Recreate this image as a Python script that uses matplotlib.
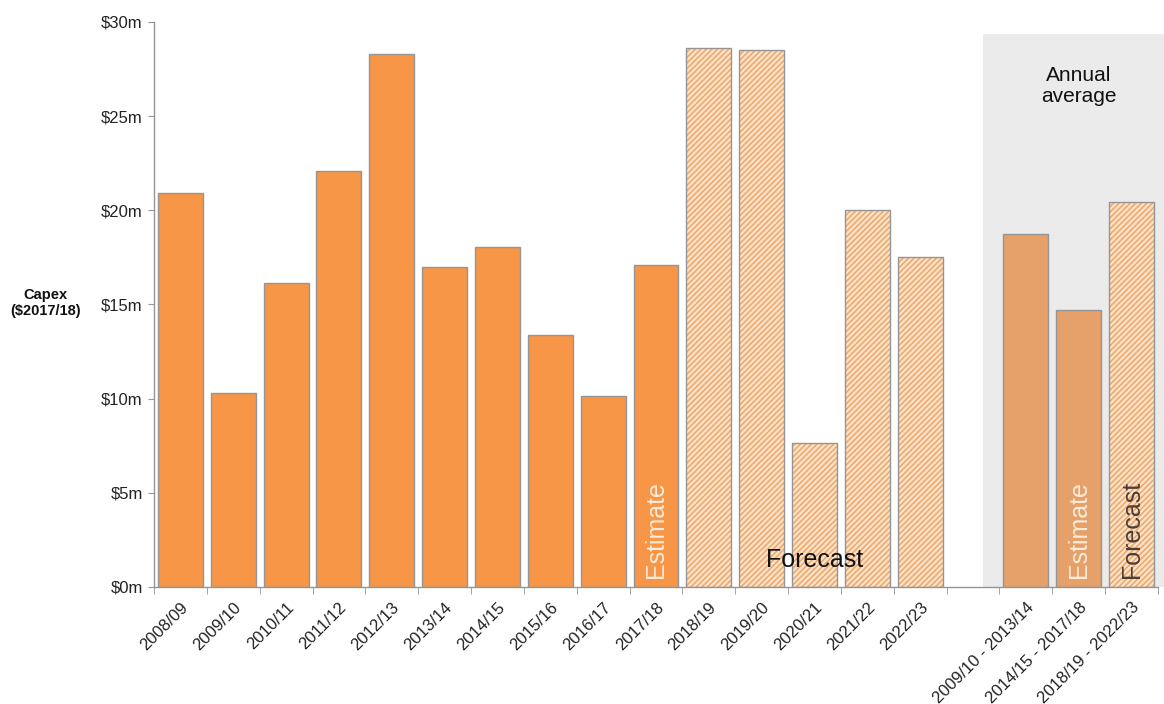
import numpy as np
import matplotlib
matplotlib.use("Agg")
import matplotlib.pyplot as plt
from matplotlib.patches import Rectangle

plt.rcParams['font.family'] = ['Liberation Sans', 'DejaVu Sans']
plt.rcParams['hatch.linewidth'] = 1.1

years = ['2008/09', '2009/10', '2010/11', '2011/12', '2012/13', '2013/14',
         '2014/15', '2015/16', '2016/17', '2017/18', '2018/19', '2019/20',
         '2020/21', '2021/22', '2022/23']
capex = [20.9, 10.3, 16.15, 22.1, 28.3, 17.0, 18.05, 13.4, 10.15, 17.1,
         28.6, 28.5, 7.65, 20.0, 17.5]
n_actual = 10   # first 10 are actual/estimate, rest forecast

avg_labels = ['2009/10 - 2013/14', '2014/15 - 2017/18', '2018/19 - 2022/23']
avg_values = [18.75, 14.7, 20.45]
avg_forecast = [False, False, True]

yticks = [0, 5, 10, 15, 20, 25, 30]

ORANGE = '#F79646'
AVG_ORANGE = '#E5A169'
HATCH_FACE = '#FBE1C6'
HATCH_LINE = '#EDA76B'
EDGE = '#959595'
GREY_BG = '#EBEBEB'

labels = years + [''] + avg_labels
x_year = np.arange(len(years))
x_avg = np.arange(len(years) + 1, len(labels))
width = 0.85

fig = plt.figure(figsize=(11.64, 7.04), dpi=100)
ax = fig.add_axes([0.1323, 0.1662, 0.8625, 0.8026])

ax.set_xlim(-0.5, len(labels) - 0.5)
ax.set_ylim(0, 30)

# shaded "annual average" panel
ax.add_patch(Rectangle((15.19, 0), 18.62 - 15.19, 29.37, facecolor=GREY_BG,
                       edgecolor='none', zorder=0, clip_on=False))


def hatched(ax, x, h):
    ax.bar(x, h, width, color=HATCH_FACE, edgecolor=HATCH_LINE, hatch='//////',
           linewidth=0, zorder=2)
    ax.bar(x, h, width, fill=False, edgecolor=EDGE, linewidth=1.0, zorder=3)


ax.bar(x_year[:n_actual], capex[:n_actual], width, color=ORANGE,
       edgecolor=EDGE, linewidth=1.0, zorder=2)
hatched(ax, x_year[n_actual:], capex[n_actual:])

for xi, v, fc in zip(x_avg, avg_values, avg_forecast):
    if fc:
        hatched(ax, xi, v)
    else:
        ax.bar(xi, v, width, color=AVG_ORANGE, edgecolor=EDGE, linewidth=1.0,
               zorder=2)

# annotations
ax.text(x_year[n_actual - 1], 0.5, 'Estimate', rotation=90, ha='center',
        va='bottom', fontsize=18, color='#FDEBDB', zorder=4)
ax.text(12.0, 0.8, 'Forecast', ha='center', va='bottom', fontsize=18,
        color='#111111', zorder=4)
ax.text(x_avg[1], 0.5, 'Estimate', rotation=90, ha='center', va='bottom',
        fontsize=18, color='#FDEBDB', zorder=4)
ax.text(x_avg[2], 0.5, 'Forecast', rotation=90, ha='center', va='bottom',
        fontsize=18, color='#4A3E36', zorder=4)
ax.text(17.0, 26.6, 'Annual\naverage', ha='center', va='center', fontsize=15,
        color='#111111', linespacing=1.15, zorder=4)

# axes styling
for s in ['top', 'right']:
    ax.spines[s].set_visible(False)
for s in ['left', 'bottom']:
    ax.spines[s].set_color(EDGE)
    ax.spines[s].set_linewidth(1.0)

ax.set_yticks(yticks)
ax.set_yticklabels([f'${v}m' for v in yticks], fontsize=12, color='#222222')
ax.tick_params(axis='y', direction='out', length=4, color=EDGE, pad=4)

ax.set_xticks(np.arange(len(labels)))
ax.set_xticklabels(labels, rotation=45, ha='right', rotation_mode='anchor',
                   fontsize=12, color='#222222')
ax.tick_params(axis='x', which='major', length=0, pad=9)
ax.set_xticks(np.arange(len(labels) + 1) - 0.5, minor=True)
ax.tick_params(axis='x', which='minor', direction='out', length=5, color=EDGE)

fig.text(0.039, 0.57, 'Capex\n($2017/18)', ha='center', va='center',
         fontsize=10.5, fontweight='bold', color='#111111')

fig.savefig('out.png', dpi=100)
